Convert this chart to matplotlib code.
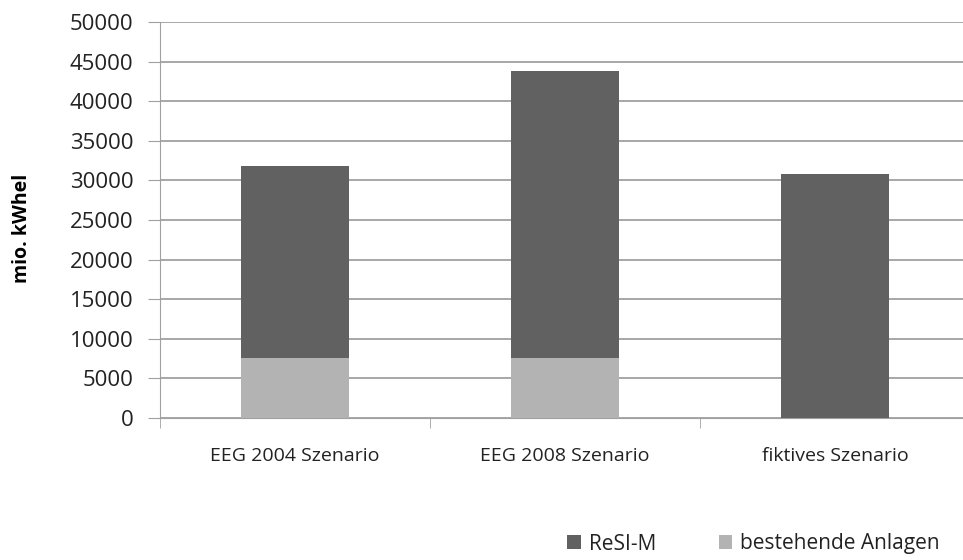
import numpy as np
import matplotlib.pyplot as plt

# data
szenarien = ["EEG 2004 Szenario", "EEG 2008 Szenario", "fiktives Szenario"]
bestehende = [7600, 7600, 0]
resi_m = [24200, 36200, 30800]

plt.rcParams['font.family'] = ['Open Sans', 'DejaVu Sans']

fig = plt.figure(figsize=(9.63, 5.60), dpi=100)
ax = fig.add_axes([160 / 963, 142 / 560, 810 / 963, 396 / 560])

x = np.arange(len(szenarien))
b1 = ax.bar(x, bestehende, width=0.4, color="#b3b3b3", zorder=3, label="bestehende Anlagen")
b2 = ax.bar(x, resi_m, width=0.4, bottom=bestehende, color="#616161", zorder=3, label="ReSI-M")

ax.set_ylim(0, 50000)
ax.set_yticks(range(0, 50001, 5000))
ax.set_xlim(-0.5, 2.5)
ax.set_xticks(x)
ax.set_xticklabels(szenarien, fontsize=14, color="#222222")
ax.set_xticks([-0.5, 0.5, 1.5, 2.5], minor=True)
ax.tick_params(axis="x", which="major", length=0, pad=21)
ax.tick_params(axis="x", which="minor", length=7, color="#a0a0a0")
ax.tick_params(axis="y", labelsize=16, length=9, color="#a0a0a0", pad=10,
               labelcolor="#222222")
ax.yaxis.grid(True, color="#a0a0a0", linewidth=1.3, zorder=0)

for s in ["top", "right"]:
    ax.spines[s].set_visible(False)
ax.spines["left"].set_color("#a0a0a0")
ax.spines["bottom"].set_color("#a0a0a0")

ax.set_ylabel("mio. kWhel", fontsize=14, fontweight="bold")
ax.yaxis.set_label_coords(-0.158, 0.48)

fig.legend([b2, b1], ["ReSI-M", "bestehende Anlagen"], loc="center left",
           bbox_to_anchor=(567 / 963, 1 - 544 / 560), ncol=2, frameon=False, fontsize=15,
           handlelength=0.65, handleheight=0.65, columnspacing=3.0, handletextpad=0.4,
           borderpad=0, borderaxespad=0, labelcolor="#222222")

fig.savefig("out.png", dpi=100)
